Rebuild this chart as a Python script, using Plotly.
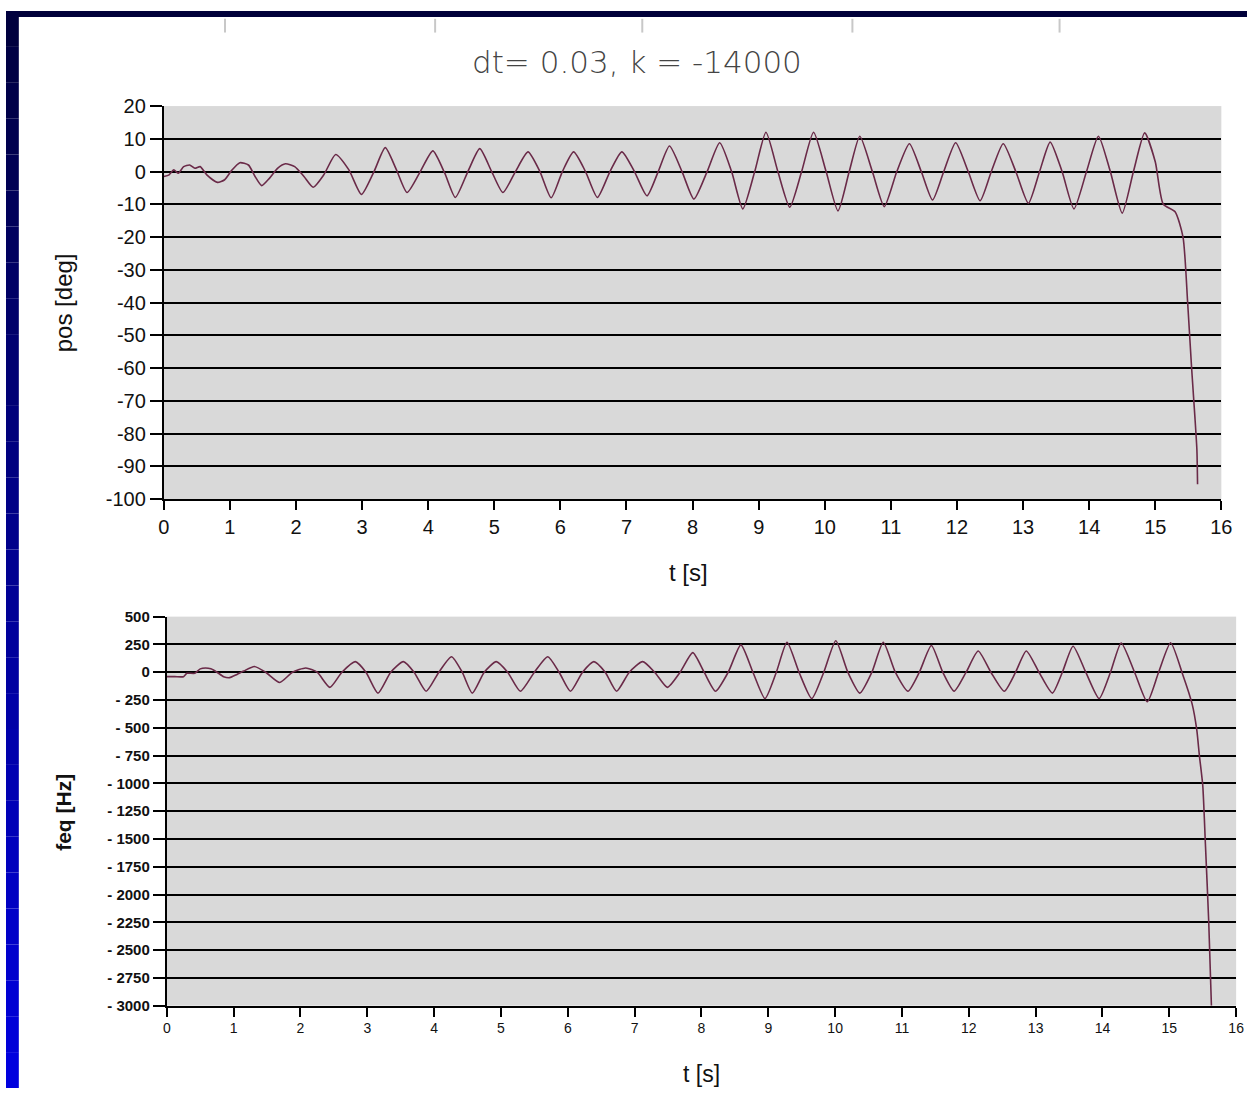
import plotly.graph_objects as go

W, H = 1258, 1099

# ---------------- data ----------------
t_pos = [0.00, 0.08, 0.15, 0.22, 0.30, 0.39, 0.47, 0.55, 0.65, 0.81, 0.92, 1.02, 1.15, 1.28, 1.38,
         1.48, 1.60, 1.72, 1.84, 1.98, 2.12, 2.26, 2.42, 2.60, 2.80, 2.99, 3.18, 3.35, 3.52, 3.68,
         3.88, 4.07, 4.25, 4.41, 4.60, 4.78, 4.96, 5.13, 5.32, 5.51, 5.69, 5.86, 6.03, 6.20, 6.38,
         6.56, 6.75, 6.93, 7.12, 7.31, 7.48, 7.65, 7.84, 8.02, 8.22, 8.41, 8.59, 8.76, 8.94, 9.11,
         9.29, 9.47, 9.65, 9.83, 10.02, 10.20, 10.37, 10.53, 10.72, 10.90, 11.09, 11.28, 11.46,
         11.63, 11.80, 11.98, 12.17, 12.35, 12.52, 12.70, 12.89, 13.08, 13.25, 13.41, 13.59, 13.77,
         13.96, 14.14, 14.32, 14.50, 14.67, 14.84, 15.00, 15.12, 15.30, 15.42, 15.49, 15.55, 15.60,
         15.63, 15.64]
pos = [-1.5, -1.0, 0.5, -0.5, 1.5, 2.0, 1.0, 1.5, -1.0, -3.3, -2.5, 0.2, 2.7, 2.0, -1.5,
       -4.3, -2.0, 1.0, 2.4, 1.5, -1.5, -4.8, -1.0, 5.2, 0.5, -7.0, 0.0, 7.3, 0.5, -6.4,
       0.0, 6.3, -0.5, -7.9, 0.0, 7.0, 0.0, -6.4, 0.0, 6.0, 0.0, -8.0, 0.0, 6.0, 0.0,
       -7.9, 0.0, 6.0, 0.0, -7.4, 0.0, 7.8, 0.0, -8.4, 0.0, 8.8, 0.0, -11.4, 0.0, 12.0,
       0.0, -10.9, 0.0, 12.0, 0.0, -12.0, 0.0, 10.8, 0.0, -10.7, 0.0, 8.5, 0.0,
       -8.7, 0.0, 8.8, 0.0, -8.9, 0.0, 8.5, 0.0, -9.7, 0.0, 9.0, 0.0, -11.4,
       0.0, 10.8, 0.0, -12.7, 0.0, 11.8, 3.0, -9.9, -12.3, -20.0, -40.0, -60.0, -75.0,
       -85.0, -95.5]

t_freq = [0.00, 0.12, 0.25, 0.30, 0.42, 0.50, 0.58, 0.66, 0.75, 0.85, 0.94, 1.05, 1.15, 1.31, 1.48,
          1.69, 1.88, 2.08, 2.25, 2.44, 2.62, 2.82, 2.98, 3.16, 3.35, 3.54, 3.70, 3.88, 4.07, 4.26,
          4.42, 4.57, 4.75, 4.93, 5.10, 5.29, 5.50, 5.70, 5.87, 6.04, 6.22, 6.39, 6.56, 6.73, 6.92,
          7.12, 7.30, 7.49, 7.68, 7.87, 8.04, 8.21, 8.40, 8.59, 8.77, 8.95, 9.12, 9.28, 9.46, 9.65,
          9.83, 10.01, 10.19, 10.37, 10.55, 10.72, 10.90, 11.09, 11.26, 11.44, 11.61, 11.78, 11.96,
          12.14, 12.33, 12.53, 12.70, 12.86, 13.05, 13.25, 13.40, 13.56, 13.75, 13.95, 14.12, 14.28,
          14.48, 14.67, 14.84, 15.02, 15.20, 15.34, 15.41, 15.45, 15.50, 15.54, 15.59, 15.63]
freq = [-40, -40, -40, -10, -10, 30, 38, 30, 0, -40, -49, -20, 10, 52, 0,
        -92, 0, 38, 0, -136, 0, 95, 0, -188, 0, 95, 0, -171, 0, 139,
        0, -188, 0, 95, 0, -171, 0, 139, 0, -171, 0, 95, 0, -171, 0,
        95, 0, -136, 0, 176, 0, -171, 0, 246, 0, -237, 0, 269, 0, -237,
        0, 283, 0, -188, 0, 269, 0, -171, 0, 240, 0, -171, 0,
        191, 0, -171, 0, 191, 0, -188, 0, 234, 0, -237, 0, 263,
        0, -266, 0, 265, -20, -283, -515, -750, -1016, -1545, -2250, -3000]

x_ticks = list(range(0, 17))
pos_ticks = list(range(-100, 21, 10))
pos_ticktext = [str(v) for v in pos_ticks]
freq_ticks = list(range(-3000, 501, 250))
freq_ticktext = [("- " + str(-v)) if v < 0 else str(v) for v in freq_ticks]

title_text = "dt= 0.03, k = -14000"

# ---------------- figure ----------------
def px(x):
    return x / W

def py(y):
    return 1 - y / H

LINE = "#6a2a48"
FONT = "Liberation Sans, Arial, sans-serif"

fig = go.Figure()
fig.add_trace(go.Scatter(x=t_pos, y=pos, mode="lines", xaxis="x", yaxis="y",
                         line=dict(color=LINE, width=1.6, shape="spline", smoothing=0.6),
                         showlegend=False, hoverinfo="skip"))
fig.add_trace(go.Scatter(x=t_freq, y=freq, mode="lines", xaxis="x2", yaxis="y2",
                         line=dict(color=LINE, width=1.6, shape="spline", smoothing=0.6),
                         showlegend=False, hoverinfo="skip"))

axis_common = dict(showline=True, linecolor="black", linewidth=2, ticks="outside",
                   tickcolor="black", tickwidth=2, zeroline=False, color="#111")

fig.update_layout(
    autosize=True,
    margin=dict(l=0, r=0, t=0, b=0),
    paper_bgcolor="white",
    plot_bgcolor="#d9d9d9",
    font=dict(family=FONT, color="#111"),
    hovermode=False,
    xaxis=dict(domain=[px(160), px(1232)], anchor="y", range=[0, 16], tickvals=x_ticks,
               showgrid=False, ticklen=9, tickfont=dict(size=20), **axis_common),
    yaxis=dict(domain=[py(498), py(97)], anchor="x", range=[-100, 20], tickvals=pos_ticks,
               ticktext=pos_ticktext,
               showgrid=True, gridcolor="black", gridwidth=2, ticklen=12,
               tickfont=dict(size=20), **axis_common),
    xaxis2=dict(domain=[px(163), px(1247)], anchor="y2", range=[0, 16], tickvals=x_ticks,
                showgrid=False, ticklen=9, tickfont=dict(size=14), **axis_common),
    yaxis2=dict(domain=[py(1015), py(618)], anchor="x2", range=[-3000, 500], tickvals=freq_ticks,
                ticktext=freq_ticktext, showgrid=True, gridcolor="black", gridwidth=2, ticklen=12,
                tickfont=dict(size=15, weight="bold"), **axis_common),
)

ann = [
    dict(text=title_text, x=px(640), y=py(52),
         font=dict(family="DejaVu Sans, sans-serif", size=31, color="#444", weight=300)),
    dict(text="pos [deg]", x=px(58), y=py(298), textangle=-90, font=dict(size=24, color="#111")),
    dict(text="t [s]", x=px(692), y=py(573), font=dict(size=24, color="#111")),
    dict(text="<b>feq [Hz]</b>", x=px(58), y=py(818), textangle=-90, font=dict(size=21, color="#111")),
    dict(text="t [s]", x=px(705), y=py(1085), font=dict(size=23, color="#111")),
]
for a in ann:
    fig.add_annotation(xref="paper", yref="paper", showarrow=False,
                       xanchor="center", yanchor="middle", **a)

shapes = []
# faint tick marks at top edge
for xx in [222, 435, 645, 858, 1068]:
    shapes.append(dict(type="line", xref="paper", yref="paper", x0=px(xx), x1=px(xx),
                       y0=py(8), y1=py(22), line=dict(color="#c8c8c8", width=2)))
# blue slide border: top band
shapes.append(dict(type="rect", xref="paper", yref="paper", x0=0, x1=1, y0=py(6), y1=1,
                   fillcolor="#00003a", line=dict(width=0), layer="above"))
# left band with vertical gradient
n = 30
for i in range(n):
    y0 = i * H / n
    y1 = (i + 1) * H / n
    f = (i + 0.5) / n
    b = int(60 + (225 - 60) * f)
    shapes.append(dict(type="rect", xref="paper", yref="paper", x0=0, x1=px(13),
                       y0=py(y1), y1=py(y0), fillcolor=f"rgb(0,0,{b})",
                       line=dict(width=0), layer="above"))
fig.update_layout(shapes=shapes)

post = ("document.body.style.margin='0';document.body.style.padding='0';"
        "document.body.style.overflow='hidden';"
        "document.documentElement.style.overflow='hidden';"
        "window.dispatchEvent(new Event('resize'));")
fig.write_html("out.html", post_script=post, default_width="100vw", default_height="100vh",
               config={"responsive": True, "displayModeBar": False})
